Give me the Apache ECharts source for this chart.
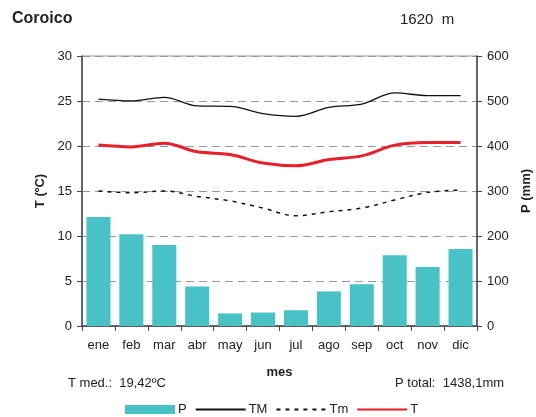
<!DOCTYPE html>
<html><head><meta charset="utf-8">
<script src="https://cdn.jsdelivr.net/npm/echarts@6/dist/echarts.min.js"></script>
<style>html,body{margin:0;padding:0;background:#fff}#c{width:536px;height:417px}</style>
</head><body><div id="c"></div>
<script>
const months = ['ene','feb','mar','abr','may','jun','jul','ago','sep','oct','nov','dic'];
const precip = [242,204,180,88,28,30,35,77,93,157,131,171];
const tMax = [25.2,25.0,25.4,24.45,24.4,23.6,23.3,24.3,24.65,25.9,25.6,25.6];
const tMin = [15.0,14.8,15.0,14.4,13.9,13.1,12.25,12.7,13.1,14.0,14.85,15.1];
const tMean = [20.1,19.9,20.3,19.35,19.05,18.1,17.8,18.5,18.9,20.1,20.4,20.4];
const tempTicks = [0,5,10,15,20,25,30];
const precipTicks = [0,100,200,300,400,500,600];

const font = 'Arial, "Liberation Sans", sans-serif';
const chart = echarts.init(document.getElementById('c'));
chart.setOption({
  animation:false,
  textStyle:{fontFamily:font},
  grid:{left:82,right:59,top:56,bottom:91,containLabel:false,outerBoundsMode:'none',show:true,borderColor:'#999',borderWidth:1},
  title:[
    {text:'Coroico',left:7,top:6,textStyle:{fontFamily:font,fontSize:16,fontWeight:'bold',color:'#222'}},
    {text:'1620  m',left:395,top:7,textStyle:{fontFamily:font,fontSize:15,fontWeight:'normal',color:'#222'}},
    {text:'T med.:  19,42ºC',left:63,top:372,textStyle:{fontFamily:font,fontSize:13,fontWeight:'normal',color:'#222'}},
    {text:'P total:  1438,1mm',left:390,top:372,textStyle:{fontFamily:font,fontSize:13,fontWeight:'normal',color:'#222'}}
  ],
  legend:{
    top:403,left:125,padding:0,itemWidth:50,itemHeight:9,itemGap:8,
    textStyle:{fontFamily:font,fontSize:13,color:'#222',padding:[0,0,0,-2]},
    data:[
      {name:'P',icon:'rect'},
      {name:'TM',itemStyle:{opacity:0}},
      {name:'Tm',itemStyle:{opacity:0}},
      {name:'T',itemStyle:{opacity:0}}
    ]
  },
  xAxis:{
    type:'category',data:months,name:'mes',nameLocation:'middle',nameGap:40,
    nameTextStyle:{fontFamily:font,fontSize:13,fontWeight:'bold',color:'#222'},
    axisLine:{lineStyle:{color:'#444',width:1.5}},
    axisTick:{show:true,length:5,lineStyle:{color:'#444'}},
    axisLabel:{color:'#222',fontSize:13,margin:13}
  },
  yAxis:[
    {type:'value',min:0,max:30,interval:5,name:'T (ºC)',nameLocation:'middle',nameGap:34,nameRotate:90,
     nameTextStyle:{fontFamily:font,fontSize:13,fontWeight:'bold',color:'#222'},
     axisLine:{show:true,lineStyle:{color:'#444',width:1.5}},
     axisTick:{show:true,length:5,lineStyle:{color:'#444'}},
     axisLabel:{color:'#222',fontSize:13,margin:10},
     splitLine:{show:true,lineStyle:{color:'#999',type:[8,5],width:1}}},
    {type:'value',min:0,max:600,interval:100,name:'P (mm)',nameLocation:'middle',nameGap:43,nameRotate:90,
     nameTextStyle:{fontFamily:font,fontSize:13,fontWeight:'bold',color:'#222'},
     axisLine:{show:true,lineStyle:{color:'#444',width:1.5}},
     axisTick:{show:true,length:5,lineStyle:{color:'#444'}},
     axisLabel:{color:'#222',fontSize:13,margin:10},
     splitLine:{show:false}}
  ],
  series:[
    {name:'P',type:'bar',yAxisIndex:1,data:precip,barWidth:'73%',itemStyle:{color:'#48C2C5'},z:1},
    {name:'TM',type:'line',data:tMax,smooth:0.35,symbol:'none',lineStyle:{color:'#111',width:1.3},itemStyle:{color:'#111'},z:3},
    {name:'Tm',type:'line',data:tMin,smooth:0.35,symbol:'none',lineStyle:{color:'#111',width:1.5,type:[4,5]},itemStyle:{color:'#111'},z:3},
    {name:'T',type:'line',data:tMean,smooth:0.35,symbol:'none',lineStyle:{color:'#E8202A',width:3},itemStyle:{color:'#E8202A'},z:4}
  ]
});
</script></body></html>
